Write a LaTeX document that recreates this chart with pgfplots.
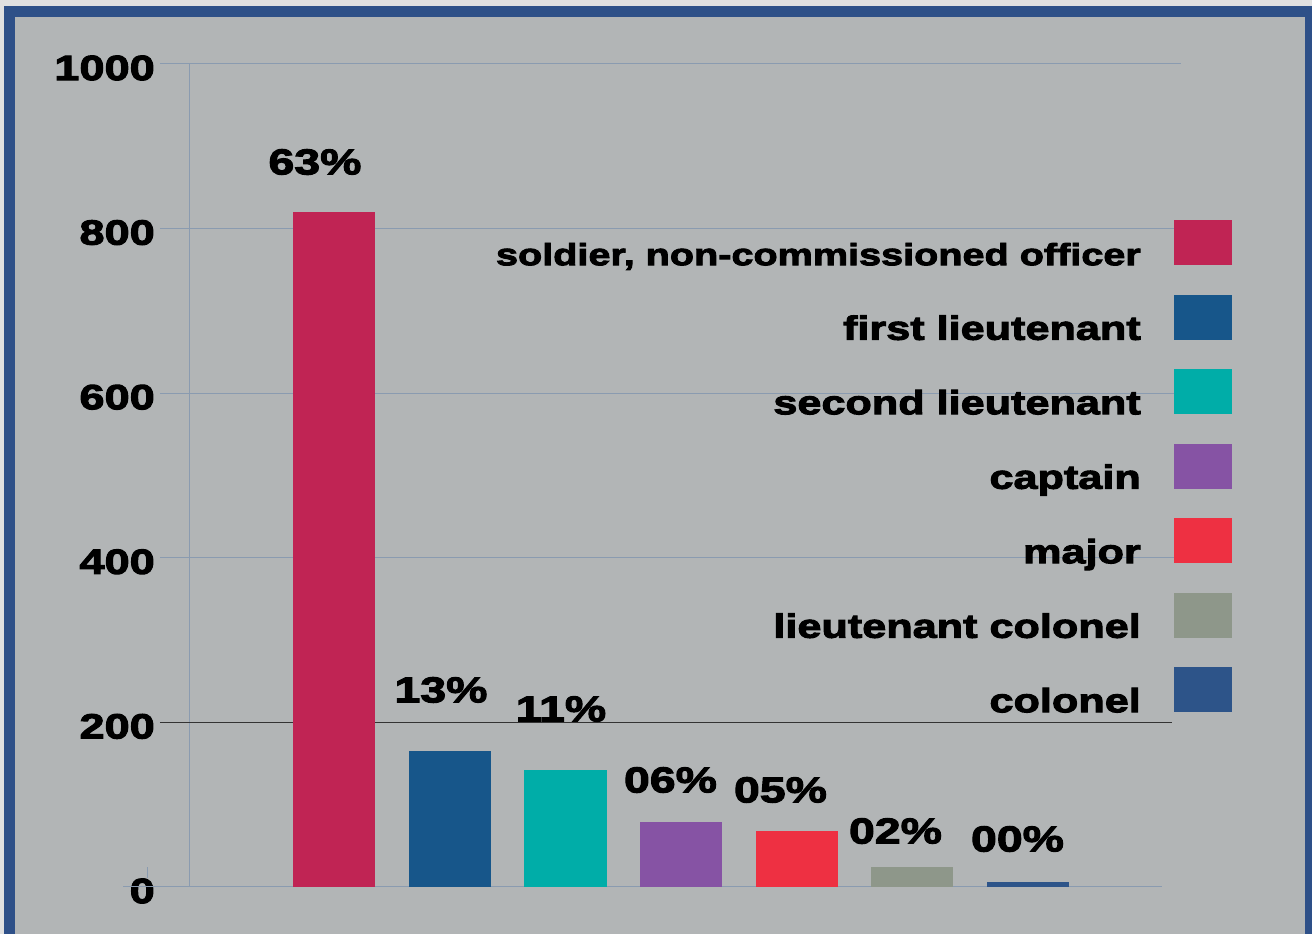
\documentclass[border=0pt]{standalone}
\usepackage{pgfplots}
\pgfplotsset{compat=1.18}
\usepackage{pgfplotstable}
\usepackage{fontspec}
\setmainfont{Liberation Sans}
\newfontfamily\chartfont{Liberation Sans Bold}[FakeStretch=1.29, FakeBold=3]
\definecolor{bg}{RGB}{178,181,182}
\definecolor{outer}{RGB}{224,224,224}
\definecolor{framec}{RGB}{46,80,136}
\definecolor{gridc}{RGB}{138,155,176}
\definecolor{cA}{RGB}{192,36,84}
\definecolor{cB}{RGB}{23,86,138}
\definecolor{cC}{RGB}{0,173,168}
\definecolor{cD}{RGB}{134,83,164}
\definecolor{cE}{RGB}{238,48,66}
\definecolor{cF}{RGB}{142,151,138}
\definecolor{cG}{RGB}{45,84,137}

\pgfplotstableread{
x y label
-0.1688 880.9 63\%
0.9221 239.4 13\%
1.9611 216.3 11\%
2.9091 130.0 06\%
3.8615 117.9 05\%
4.8572 68.0 02\%
5.9135 58.3 00\%
}\labeltab

\pgfplotsset{
  sq/.style={ybar, bar width=82pt, bar shift=0pt, fill=#1, draw=none,
    legend image code/.code={\fill[#1] (0pt,-12pt) rectangle (58pt,33pt);}},
}

\begin{document}
\begin{tikzpicture}[x=1pt,y=1pt]
\fill[outer] (0,0) rectangle (1312,934);
\useasboundingbox (0,0) rectangle (1312,934);
\begin{scope}
\clip (0,0) rectangle (1312,934);
\fill[bg] (9.5,-20) rectangle (1330,922);
\draw[framec, line width=11pt] (9.5,-20) rectangle (1310.5,922);
\end{scope}
\begin{axis}[
  at={(189pt,47pt)}, anchor=south west,
  scale only axis, width=992pt, height=823pt,
  xmin=-1.2597, xmax=7.3290, ymin=0, ymax=1000,
  clip=false,
  axis line style={draw=none},
  tick style={draw=none},
  xtick=\empty,
  ytick={0,200,400,600,800,1000},
  yticklabels={0,200,400,600,800,1000},
  yticklabel style={font=\chartfont\fontsize{35}{35}\selectfont, anchor=east, inner sep=0pt, xshift=-34pt, yshift=-4pt},
  legend style={at={(1.0514,0.8104)}, anchor=north east, draw=none, fill=none,
    inner sep=0pt, row sep=29.5pt, column sep=33pt,
    font=\chartfont\fontsize{33.5}{33.5}\selectfont,
    nodes={inner sep=0pt, text height=24pt, text depth=0pt}},
  legend cell align=right,
  legend plot pos=right,
]
\draw[gridc, line width=1pt] (axis cs:-1.5108,400) -- (axis cs:7.3290,400);
\draw[gridc, line width=1pt] (axis cs:-1.5108,600) -- (axis cs:7.3290,600);
\draw[gridc, line width=1pt] (axis cs:-1.5108,800) -- (axis cs:7.3290,800);
\draw[gridc, line width=1pt] (axis cs:-1.5108,1000) -- (axis cs:7.3290,1000);
\draw[gridc, line width=1pt] (axis cs:-1.8311,0) -- (axis cs:7.1645,0);
\draw[gridc, line width=1pt] (axis cs:-1.2597,0) -- (axis cs:-1.2597,1000);
\draw[gridc, line width=1pt] (axis cs:-1.6233,11) -- (axis cs:-1.6233,24.5);
\draw[black!80, line width=1.5pt] (axis cs:-1.5108,200) -- (axis cs:7.2511,200);

\addplot[sq=cA] coordinates {(0,820)};
\addlegendentry{\fontsize{30.7}{30.7}\selectfont soldier, non-commissioned officer}
\addplot[sq=cB] coordinates {(1,165)};
\addlegendentry{first lieutenant}
\addplot[sq=cC] coordinates {(2,142)};
\addlegendentry{second lieutenant}
\addplot[sq=cD] coordinates {(3,79)};
\addlegendentry{captain}
\addplot[sq=cE] coordinates {(4,68)};
\addlegendentry{major}
\addplot[sq=cF] coordinates {(5,24)};
\addlegendentry{lieutenant colonel}
\addplot[sq=cG] coordinates {(6,6)};
\addlegendentry{colonel}

\addplot[forget plot, draw=none, mark=none, nodes near coords, point meta=explicit symbolic,
  nodes near coords style={font=\chartfont\fontsize{36}{36}\selectfont, anchor=center, inner sep=0pt}]
  table[x=x, y=y, meta=label] {\labeltab};
\end{axis}
\end{tikzpicture}
\end{document}
